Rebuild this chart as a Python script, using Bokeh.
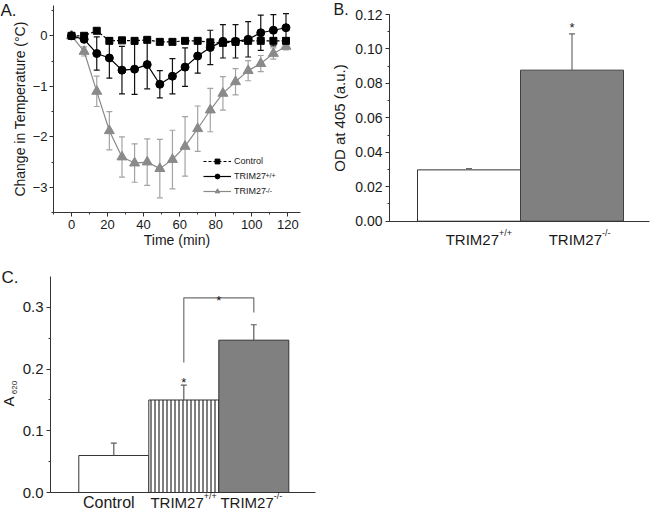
import numpy as np
from bokeh.plotting import figure
from bokeh.layouts import column, row
from bokeh.models import (Range1d, SingleIntervalTicker, FixedTicker, Whisker, TeeHead,
                          Label, Legend, LegendItem, ColumnDataSource, PrintfTickFormatter)
from bokeh.embed import file_html
from bokeh.resources import INLINE

FONT = "Liberation Sans"

# ---------------- Panel A data ----------------
time_min = [0, 7, 14, 21, 28, 35, 42, 49, 56, 63, 70, 77, 84, 91, 98, 105, 112, 119]
control_temp = [0.0, 0.0, 0.10, -0.10, -0.09, -0.10, -0.08, -0.12, -0.12, -0.10, -0.10,
                -0.13, -0.14, -0.12, -0.10, -0.10, -0.10, -0.10]
wt_temp = [0.0, -0.07, -0.35, -0.44, -0.68, -0.66, -0.57, -0.96, -0.80, -0.62, -0.40,
           -0.23, -0.11, -0.11, -0.07, 0.06, 0.11, 0.16]
wt_err = [0.0, 0.03, 0.33, 0.40, 0.47, 0.50, 0.48, 0.27, 0.35, 0.38, 0.34,
          0.34, 0.33, 0.33, 0.35, 0.35, 0.31, 0.28]
ko_temp = [0.0, -0.31, -1.10, -1.88, -2.40, -2.52, -2.50, -2.63, -2.45, -2.19, -1.84,
           -1.47, -1.14, -0.91, -0.69, -0.55, -0.35, -0.21]
ko_err = [0.0, 0.09, 0.30, 0.38, 0.40, 0.38, 0.46, 0.58, 0.58, 0.59, 0.45,
          0.43, 0.33, 0.26, 0.20, 0.16, 0.11, 0.07]
legend_names = ["Control", "TRIM27", "TRIM27"]
legend_sups = ["", "+/+", "-/-"]

# ---------------- Panel B data ----------------
b_categories = ["TRIM27", "TRIM27"]
b_superscripts = ["+/+", "-/-"]
b_values = [0.0298, 0.0877]
b_errors = [0.0007, 0.0211]
b_significant = [False, True]

# ---------------- Panel C data ----------------
c_categories = ["Control", "TRIM27", "TRIM27"]
c_superscripts = ["", "+/+", "-/-"]
c_values = [0.060, 0.150, 0.247]
c_errors = [0.020, 0.024, 0.025]
c_significant = [False, True, False]

AXIS_COLOR = "#333333"
TEXT_COLOR = "#1a1a1a"
GRAY_BAR = "#808080"


def x_span(v0, px0, ppu, width):
    """Data range for a canvas of given width where value v0 sits at pixel px0."""
    return Range1d(v0 - px0 / ppu, v0 + (width - px0) / ppu)


def y_span(v0, py0, ppu, height):
    """Data range for a canvas of given height where value v0 sits at pixel py0 (from top)."""
    return Range1d(v0 - (height - py0) / ppu, v0 + py0 / ppu)


def make_fig(w, h, xr, yr):
    p = figure(width=w, height=h, x_range=xr, y_range=yr, output_backend="svg",
               toolbar_location=None, min_border_left=0, min_border_right=0,
               min_border_top=0, min_border_bottom=0)
    p.xgrid.visible = False
    p.ygrid.visible = False
    p.outline_line_color = None
    p.background_fill_color = "white"
    p.border_fill_color = "white"
    return p


def style_axes(p, tick_size):
    for ax in p.axis:
        ax.axis_line_color = AXIS_COLOR
        ax.axis_line_width = 1
        ax.major_tick_line_color = AXIS_COLOR
        ax.minor_tick_line_color = AXIS_COLOR
        ax.major_tick_in = 0
        ax.major_tick_out = 4
        ax.minor_tick_in = 0
        ax.minor_tick_out = 2
        ax.major_label_text_font = FONT
        ax.major_label_text_font_size = tick_size
        ax.major_label_text_color = TEXT_COLOR
        ax.axis_label_text_font = FONT
        ax.axis_label_text_font_style = "normal"
        ax.axis_label_text_color = TEXT_COLOR


def txt(p, x, y, text, size, dx=0, dy=0, align="left", baseline="alphabetic", angle=0.0):
    p.add_layout(Label(x=x, y=y, x_offset=dx, y_offset=dy, text=text, text_font=FONT,
                       text_font_size=size, text_align=align, text_baseline=baseline,
                       angle=angle, text_color=TEXT_COLOR))


# =============== Panel A ===============
WA, HA = 320, 262
xrA = x_span(0, 71, 1.8025, WA)
yrA = y_span(0, 35.3, 50.5, HA)
pA = make_fig(WA, HA, xrA, yrA)
a_xbounds = (-10, 127)
a_ybounds = (-3.5, 0.6)
pA.xaxis.fixed_location = a_ybounds[0]
pA.yaxis.fixed_location = a_xbounds[0]
pA.xaxis.bounds = a_xbounds
pA.yaxis.bounds = a_ybounds
style_axes(pA, "13px")
pA.xaxis.ticker = SingleIntervalTicker(interval=20, num_minor_ticks=2)
pA.yaxis.ticker = SingleIntervalTicker(interval=1, num_minor_ticks=2)
pA.xaxis.axis_label = "Time (min)"
pA.yaxis.axis_label = "Change in Temperature (\u00b0C)"
pA.xaxis.axis_label_text_font_size = "14px"
pA.yaxis.axis_label_text_font_size = "14px"
pA.xaxis.major_label_standoff = 3
pA.yaxis.major_label_standoff = 2
pA.xaxis.axis_label_standoff = 0
pA.yaxis.axis_label_standoff = 2

t = np.array(time_min, dtype=float)
srcA = ColumnDataSource(dict(
    t=t, ctl=control_temp,
    wt=wt_temp, wt_lo=np.array(wt_temp) - np.array(wt_err), wt_hi=np.array(wt_temp) + np.array(wt_err),
    ko=ko_temp, ko_lo=np.array(ko_temp) - np.array(ko_err), ko_hi=np.array(ko_temp) + np.array(ko_err),
))

KO_COLOR = "#8a8a8a"
KO_ERR = "#a3a3a3"
pA.add_layout(Whisker(source=srcA, base="t", lower="ko_lo", upper="ko_hi",
                      line_color=KO_ERR, line_width=1.2,
                      upper_head=TeeHead(size=6, line_color=KO_ERR, line_width=1.2),
                      lower_head=TeeHead(size=6, line_color=KO_ERR, line_width=1.2)))
pA.add_layout(Whisker(source=srcA, base="t", lower="wt_lo", upper="wt_hi",
                      line_color="#111111", line_width=1.2,
                      upper_head=TeeHead(size=6, line_color="#111111", line_width=1.2),
                      lower_head=TeeHead(size=6, line_color="#111111", line_width=1.2)))

ko_line = pA.line("t", "ko", source=srcA, line_color=KO_COLOR, line_width=1.2)
ko_pts = pA.scatter("t", "ko", source=srcA, marker="triangle", size=10,
                    fill_color=KO_COLOR, line_color=KO_COLOR)
wt_line = pA.line("t", "wt", source=srcA, line_color="black", line_width=1.2)
wt_pts = pA.scatter("t", "wt", source=srcA, marker="circle", size=8,
                    fill_color="black", line_color="black")
ctl_line = pA.line("t", "ctl", source=srcA, line_color="black", line_width=1.2, line_dash="3 2")
ctl_pts = pA.scatter("t", "ctl", source=srcA, marker="square", size=7,
                     fill_color="black", line_color="black")

LEG_X, LEG_Y = 203, 65
legend = Legend(items=[
    LegendItem(label=legend_names[0], renderers=[ctl_line, ctl_pts]),
    LegendItem(label=legend_names[1], renderers=[wt_line, wt_pts]),
    LegendItem(label=legend_names[2], renderers=[ko_line, ko_pts]),
], location=(LEG_X, LEG_Y), glyph_width=28, glyph_height=12, label_height=12,
    label_standoff=3, spacing=3, padding=0, margin=0,
    border_line_color=None, background_fill_alpha=0,
    label_text_font=FONT, label_text_font_size="9px", label_text_color=TEXT_COLOR)
pA.add_layout(legend)

# superscripts of the legend labels (rows measured up from the legend's bottom)
row_centers = [LEG_Y + 36, LEG_Y + 21, LEG_Y + 6]
for i, sup in enumerate(legend_sups):
    if sup:
        txt(pA, xrA.start, yrA.start, sup, "7px", dx=LEG_X + 28 + 3 + 31, dy=row_centers[i] + 1)

txt(pA, xrA.start, yrA.end, "A.", "17px", dx=0, dy=0, baseline="top")

# =============== Panel B ===============
WB, HB = 330, 262
xrB = x_span(1, 148.5, 103, WB)
yrB = y_span(0, 220.7, 1722.5, HB)
pB = make_fig(WB, HB, xrB, yrB)
b_xbounds = (1 - (148.5 - 69) / 103, 1 + (329 - 148.5) / 103)
b_ybounds = (0, 0.12)
pB.xaxis.fixed_location = 0
pB.yaxis.fixed_location = b_xbounds[0]
pB.xaxis.bounds = b_xbounds
pB.yaxis.bounds = b_ybounds
style_axes(pB, "14px")
pB.yaxis.ticker = SingleIntervalTicker(interval=0.02, num_minor_ticks=2)
pB.yaxis.formatter = PrintfTickFormatter(format="%.2f")
pB.yaxis.axis_label = "OD at 405 (a.u.)"
pB.yaxis.axis_label_text_font_size = "15px"
pB.yaxis.major_label_standoff = 3
pB.yaxis.axis_label_standoff = 4
pB.xaxis.ticker = FixedTicker(ticks=[])
pB.xaxis.major_label_text_font_size = "0px"

xb = np.arange(1, len(b_values) + 1, dtype=float)
pB.vbar(x=xb, top=b_values, width=1.0, fill_color=["white", GRAY_BAR],
        line_color=["#333333", "#404040"], line_width=1)
b_upper = np.array(b_values) + np.array(b_errors)
srcB = ColumnDataSource(dict(x=xb, lo=b_values, hi=b_upper))
pB.add_layout(Whisker(source=srcB, base="x", lower="lo", upper="hi",
                      line_color="#6a6a6a", line_width=1.2, lower_head=None,
                      upper_head=TeeHead(size=6, line_color="#6a6a6a", line_width=1.2),
                      level="overlay"))
for i in range(len(b_values)):
    txt(pB, xb[i], 0, b_categories[i], "15px", dx=30, dy=-18.6, align="right")
    txt(pB, xb[i], 0, b_superscripts[i], "9px", dx=30, dy=-12, align="left")
    if b_significant[i]:
        txt(pB, xb[i], b_upper[i], "*", "13px", dy=6, align="center")

txt(pB, xrB.start, yrB.end, "B.", "16px", dx=13, dy=0, baseline="top")

# =============== Panel C ===============
WC, HC = 330, 250
xrC = x_span(1, 113.3, 70, WC)
yrC = y_span(0, 230, 616.7, HC)
pC = make_fig(WC, HC, xrC, yrC)
c_xbounds = (1 - (113.3 - 50) / 70, 1 + (315 - 113.3) / 70)
c_ybounds = (0, 0.35)
pC.xaxis.fixed_location = 0
pC.yaxis.fixed_location = c_xbounds[0]
pC.xaxis.bounds = c_xbounds
pC.yaxis.bounds = c_ybounds
style_axes(pC, "15px")
pC.yaxis.ticker = SingleIntervalTicker(interval=0.1, num_minor_ticks=2)
pC.yaxis.formatter = PrintfTickFormatter(format="%.1f")
pC.yaxis.major_label_standoff = 3
pC.xaxis.ticker = FixedTicker(ticks=[])
pC.xaxis.major_label_text_font_size = "0px"

xc = np.arange(1, len(c_values) + 1, dtype=float)
pC.vbar(x=xc, top=c_values, width=1.0,
        fill_color=["white", "white", GRAY_BAR],
        line_color=["#333333", "#333333", "#333333"], line_width=1,
        hatch_pattern=["blank", "vertical_line", "blank"],
        hatch_color="black", hatch_scale=4, hatch_weight=1)
c_upper = np.array(c_values) + np.array(c_errors)
srcC = ColumnDataSource(dict(x=xc, lo=c_values, hi=c_upper))
pC.add_layout(Whisker(source=srcC, base="x", lower="lo", upper="hi",
                      line_color="#5a5a5a", line_width=1.2, lower_head=None,
                      upper_head=TeeHead(size=6, line_color="#5a5a5a", line_width=1.2),
                      level="overlay"))
for i in range(len(c_values)):
    if c_superscripts[i]:
        txt(pC, xc[i], 0, c_categories[i], "15px", dx=20, dy=-10, align="right")
        txt(pC, xc[i], 0, c_superscripts[i], "9px", dx=20, dy=-3.5, align="left")
    else:
        txt(pC, xc[i], 0, c_categories[i], "16px", dx=-5, dy=-10, align="center")
    if c_significant[i]:
        txt(pC, xc[i], c_upper[i], "*", "13px", dy=3, align="center")

# significance bracket between TRIM27+/+ and TRIM27-/-
br_top = 0.3157
pC.line(x=[xc[1], xc[1], xc[2], xc[2]], y=[c_upper[1] + 0.037, br_top, br_top, c_upper[2] + 0.02],
        line_color="#707070", line_width=1.2)
txt(pC, (xc[1] + xc[2]) / 2, br_top, "*", "13px", dy=-3, align="center")

# y label A620 (subscript), rotated
txt(pC, xrC.start, 0, "A", "15px", dx=8, dy=91, align="center", baseline="middle", angle=np.pi / 2)
txt(pC, xrC.start, 0, "620", "8px", dx=14, dy=105, align="center", baseline="middle", angle=np.pi / 2)

txt(pC, xrC.start, yrC.end, "C.", "17px", dx=1, dy=-5, baseline="top")

layout = column(row(pA, pB), pC)
open("out.html", "w").write(file_html(layout, INLINE))
